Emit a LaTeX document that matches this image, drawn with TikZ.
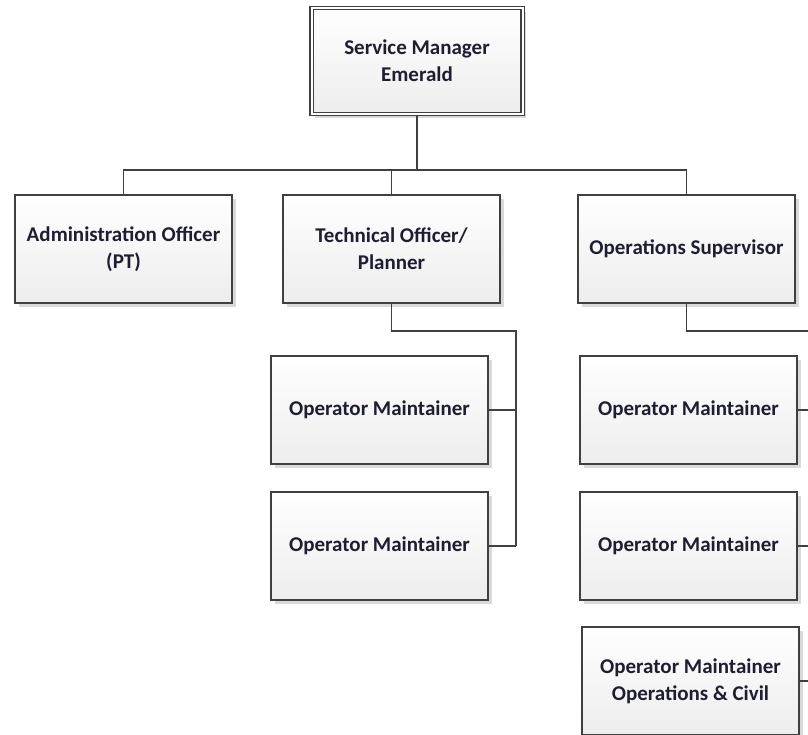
\documentclass[tikz,border=0pt]{standalone}
\usepackage{fontspec}
\setmainfont{Carlito}
\usetikzlibrary{shadows}
\definecolor{edge}{HTML}{404040}
\definecolor{txt}{HTML}{1E1E32}
\definecolor{boxbot}{HTML}{EDEDED}
\tikzset{
  orgbox/.style={rectangle, draw=edge, line width=1.3pt, top color=white, bottom color=boxbot,
    minimum width=217pt, minimum height=108pt, align=center, text=txt, inner sep=2pt,
    font=\bfseries\fontsize{21}{27}\selectfont,
    drop shadow={shadow xshift=3.5pt, shadow yshift=-3.5pt, fill=black!25, opacity=0.6}},
  link/.style={draw=edge, line width=1.3pt},
}
\begin{document}
\begin{tikzpicture}[x=1pt,y=-1pt]
\useasboundingbox (0,0) rectangle (808,734);
\clip (0,0) rectangle (808,734);
\node[orgbox, double=white, double distance=2pt, line width=1.1pt, minimum width=211pt, minimum height=106pt] (sm) at (417,61) {Service Manager\\Emerald};
\node[orgbox] (admin) at (123.5,249) {Administration Officer\\(PT)};
\node[orgbox] (tech) at (391.5,249) {Technical Officer/\\Planner};
\node[orgbox] (ops) at (686.5,249) {Operations Supervisor};
\node[orgbox] (om1) at (379.5,410) {Operator Maintainer};
\node[orgbox] (om2) at (379.5,546) {Operator Maintainer};
\node[orgbox] (om3) at (688.5,410) {Operator Maintainer};
\node[orgbox] (om4) at (688.5,546) {Operator Maintainer};
\node[orgbox] (om5) at (690.5,681) {Operator Maintainer\\Operations \& Civil};
\coordinate (bus) at (417,170);
\coordinate (tb) at (516,331);
\coordinate (rb) at (830,331);
\draw[link] (sm.south) -- (bus);
\draw[link] (admin.north) |- (bus) -| (ops.north);
\draw[link] (tech.north) -- (tech.north |- bus);
\draw[link] (tech.south) |- (tb) -- (tb |- om2.east);
\draw[link] (om1.east) -- (om1.east -| tb);
\draw[link] (om2.east) -- (om2.east -| tb);
\draw[link] (ops.south) |- (rb) -- (rb |- om5.east);
\draw[link] (om3.east) -- (om3.east -| rb);
\draw[link] (om4.east) -- (om4.east -| rb);
\draw[link] (om5.east) -- (om5.east -| rb);
\end{tikzpicture}
\end{document}
